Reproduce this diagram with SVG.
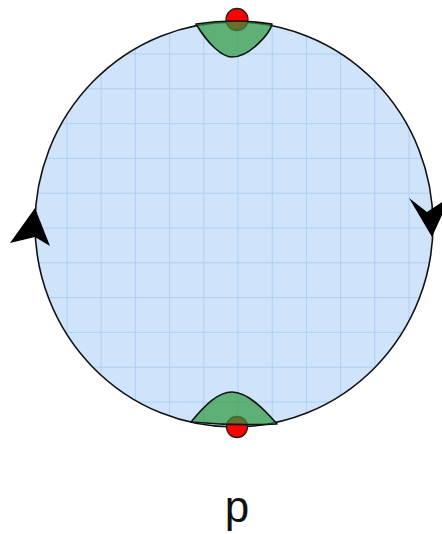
<svg xmlns="http://www.w3.org/2000/svg" width="442" height="534" viewBox="0 0 442 534">
<style>
.edge{fill:none;stroke:#111;stroke-width:1.6}
.grid{fill:none;stroke:#abd1f8;stroke-width:1}
.blob{fill:#2f9a3e;fill-opacity:0.7;stroke:#111;stroke-width:1.6;stroke-linejoin:round}
.dot{fill:#ff0000;stroke:#222;stroke-width:1.3}
.arrow{fill:#000}
.lbl{font-family:"Liberation Sans",Arial,sans-serif;font-size:44px;fill:#111}
</style>
<defs>
<clipPath id="clipC"><ellipse cx="234" cy="224.5" rx="199" ry="202.5"/></clipPath>
</defs>
<g id="disk">
<ellipse cx="234" cy="224.5" rx="199" ry="202.5" fill="#cfe4fa"/>
<path class="grid" clip-path="url(#clipC)" d="M32.8,0V534M67,0V534M101.2,0V534M135.4,0V534M169.6,0V534M203.8,0V534M238,0V534M272.2,0V534M306.4,0V534M340.6,0V534M374.8,0V534M409,0V534M0,19.2H442M0,54H442M0,88.8H442M0,123.6H442M0,158.4H442M0,193.2H442M0,228H442M0,262.8H442M0,297.6H442M0,332.4H442M0,367.2H442M0,402H442"/>
<ellipse class="edge" cx="234" cy="224.5" rx="199" ry="202.5"/>
</g>
<g id="top-point">
<circle class="dot" cx="237" cy="19.5" r="11"/>
<path class="blob" d="M196,24 Q234,18 272,24 C270,33 250,57 232,57 C222,57 208,44 196,24 Z"/>
</g>
<g id="bottom-point">
<circle class="dot" cx="237" cy="427" r="10.5"/>
<path class="blob" d="M191,422 C205,405 218,392 232,392 C248,392 265,410 277,424 Q234,426 191,422 Z"/>
</g>
<g id="connectors">
<path class="arrow" d="M35,208 L50,246 L35,237 L10,243 Z"/>
<path class="arrow" d="M432,237 L409,198 L427,212 L442,202 L442,215 Z"/>
</g>
<g id="label">
<text class="lbl" x="237" y="522" text-anchor="middle">p</text>
</g>
</svg>
